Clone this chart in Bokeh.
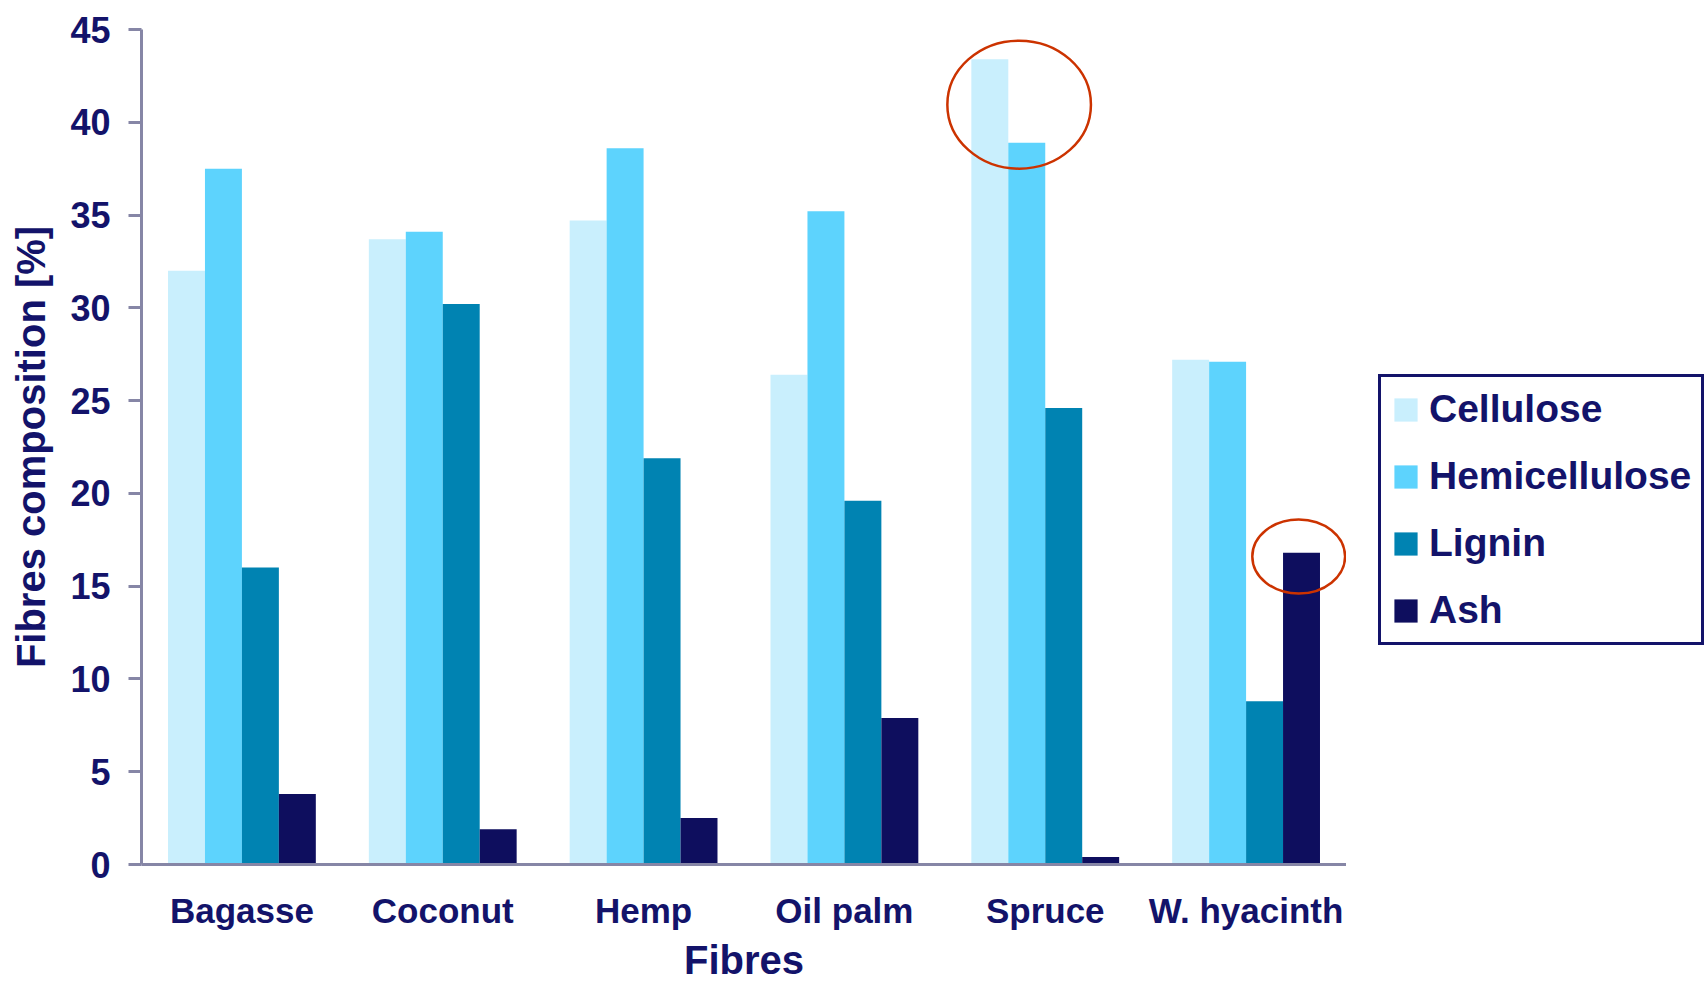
from bokeh.plotting import figure
from bokeh.layouts import row
from bokeh.models import ColumnDataSource, FactorRange, Range1d, Legend, LegendItem, FixedTicker
from bokeh.transform import dodge
from bokeh.embed import file_html
from bokeh.resources import INLINE

# Fibre composition (% of dry mass)
fibres = ["Bagasse", "Coconut", "Hemp", "Oil palm", "Spruce", "W. hyacinth"]
cellulose = [32.0, 33.7, 34.7, 26.4, 43.4, 27.2]
hemicellulose = [37.5, 34.1, 38.6, 35.2, 38.9, 27.1]
lignin = [16.0, 30.2, 21.9, 19.6, 24.6, 8.8]
ash = [3.8, 1.9, 2.5, 7.9, 0.4, 16.8]
y_ticks = [0, 5, 10, 15, 20, 25, 30, 35, 40, 45]

series = ["Cellulose", "Hemicellulose", "Lignin", "Ash"]
colors = ["#C9EFFD", "#5DD3FD", "#0083B2", "#0E0E5E"]
offsets = [-0.276, -0.092, 0.092, 0.276]
BAR_W = 0.184

NAVY = "#13136A"
AXIS = "#8686A6"
FONT = "Liberation Sans"

source = ColumnDataSource(dict(fibre=fibres, Cellulose=cellulose,
                               Hemicellulose=hemicellulose, Lignin=lignin, Ash=ash))

p = figure(width=1346, height=984,
           x_range=FactorRange(*fibres, range_padding=0, factor_padding=0),
           y_range=Range1d(0, 45),
           output_backend="svg", toolbar_location=None,
           min_border_left=141, min_border_right=0,
           min_border_top=29, min_border_bottom=120)
p.outline_line_color = None
p.background_fill_color = "white"
p.border_fill_color = "white"
p.grid.visible = False

for name, col, off in zip(series, colors, offsets):
    p.vbar(x=dodge("fibre", off, range=p.x_range), top=name, width=BAR_W,
           source=source, fill_color=col, line_color=None)

# highlight rings: Spruce polysaccharides and water hyacinth ash
i_s = fibres.index("Spruce")
i_w = fibres.index("W. hyacinth")
ring1 = ColumnDataSource(dict(fibre=["Spruce"],
                              y=[(cellulose[i_s] + hemicellulose[i_s]) / 2 - 0.2]))
ring2 = ColumnDataSource(dict(fibre=["W. hyacinth"], y=[ash[i_w] - 0.2]))
p.ellipse(x=dodge("fibre", -0.13, range=p.x_range), y="y", width=0.715, height=6.9,
          source=ring1, fill_color=None, line_color="#CC3300", line_width=2.5)
p.ellipse(x=dodge("fibre", 0.262, range=p.x_range), y="y", width=0.462, height=4.0,
          source=ring2, fill_color=None, line_color="#CC3300", line_width=2.5)

# axes
for ax in (p.xaxis[0], p.yaxis[0]):
    ax.axis_line_color = AXIS
    ax.axis_line_width = 3
    ax.major_label_text_font = FONT
    ax.major_label_text_font_style = "bold"
    ax.major_label_text_color = NAVY
    ax.axis_label_text_font = FONT
    ax.axis_label_text_font_style = "bold"
    ax.axis_label_text_color = NAVY
    ax.axis_label_text_font_size = "40px"
    ax.minor_tick_line_color = None

p.yaxis.ticker = FixedTicker(ticks=y_ticks)
p.yaxis.major_tick_line_color = AXIS
p.yaxis.major_tick_line_width = 3
p.yaxis.major_tick_out = 13
p.yaxis.major_tick_in = 0
p.yaxis.major_label_text_font_size = "36px"
p.yaxis.major_label_standoff = 18
p.yaxis.axis_label = "Fibres composition [%]"
p.yaxis.axis_label_standoff = 14

p.xaxis.major_tick_line_color = None
p.xaxis.major_tick_out = 0
p.xaxis.major_tick_in = 0
p.xaxis.major_label_text_font_size = "35px"
p.xaxis.major_label_standoff = 26
p.xaxis.axis_label = "Fibres"
p.xaxis.axis_label_standoff = 5

# legend panel to the right of the chart
side = figure(width=360, height=984, x_range=Range1d(0, 1), y_range=Range1d(0, 1),
              output_backend="svg", toolbar_location=None,
              min_border_left=0, min_border_right=0, min_border_top=0, min_border_bottom=0)
side.axis.visible = False
side.grid.visible = False
side.outline_line_color = None
side.background_fill_color = "white"
side.border_fill_color = "white"

# zero-height swatch bars placed outside the visible range, used only as legend keys
keys = []
for name, col in zip(series, colors):
    r = side.vbar(x=[5], top=[0], width=0.1, fill_color=col, line_color=None)
    keys.append(LegendItem(label=name, renderers=[r]))

legend = Legend(items=keys, location=(32, 219))
legend.border_line_color = NAVY
legend.border_line_alpha = 1.0
legend.border_line_width = 3
legend.background_fill_color = "white"
legend.label_text_font = FONT
legend.label_text_font_style = "bold"
legend.label_text_font_size = "39px"
legend.label_text_color = NAVY
legend.glyph_width = 29
legend.glyph_height = 29
legend.label_standoff = 9
legend.padding = 10
legend.spacing = 23
legend.margin = 0
side.add_layout(legend, "center")

layout = row(p, side)
open("out.html", "w").write(file_html(layout, INLINE))
